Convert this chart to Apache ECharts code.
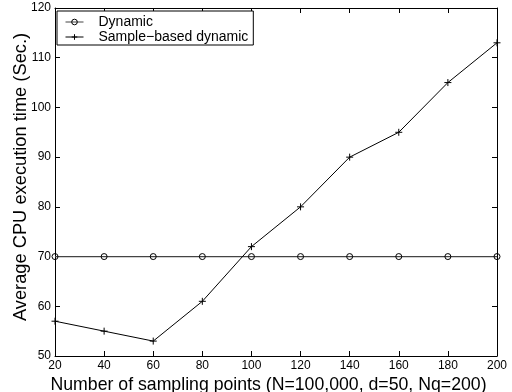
<!DOCTYPE html>
<html>
<head>
<meta charset="utf-8">
<script src="https://cdn.jsdelivr.net/npm/echarts@6/dist/echarts.min.js"></script>
<style>
  html, body { margin: 0; padding: 0; background: #fff; }
  #chart { width: 512px; height: 392px; }
</style>
</head>
<body>
<div id="chart"></div>
<script>
const samplingPoints = [20, 40, 60, 80, 100, 120, 140, 160, 180, 200];
const dynamicTime = [70, 70, 70, 70, 70, 70, 70, 70, 70, 70];
const sampleBasedTime = [57, 55, 53, 61, 72, 80, 90, 95, 105, 113];

const font = 'Liberation Sans, Arial, Helvetica, sans-serif';
const plus = 'path://M0,5L10,5M5,0L5,10';

function pairs(ys) {
  return samplingPoints.map((x, i) => [x, ys[i]]);
}

const tickStyle = { show: true, inside: true, length: 5, lineStyle: { color: '#000', width: 1 } };
const lineAxis = { show: true, onZero: false, lineStyle: { color: '#000', width: 1 } };

const chart = echarts.init(document.getElementById('chart'));
chart.setOption({
  animation: false,
  backgroundColor: '#fff',
  textStyle: { fontFamily: font },
  grid: { left: 55, right: 15, top: 8, bottom: 36, containLabel: false, outerBoundsMode: 'none' },
  legend: {
    orient: 'vertical',
    left: 57,
    top: 11,
    padding: [4, 5, 1, 8],
    itemWidth: 18,
    itemHeight: 7,
    itemGap: 1,
    backgroundColor: '#fff',
    borderColor: '#000',
    borderWidth: 1,
    borderRadius: 0,
    lineStyle: { width: 1 },
    itemStyle: { borderWidth: 1 },
    textStyle: { fontFamily: font, fontSize: 14, lineHeight: 14, color: '#000', padding: [0, 0, 0, 10] },
    data: ['Dynamic', 'Sample\u2212based dynamic']
  },
  xAxis: [
    {
      type: 'value', min: 20, max: 200, interval: 20,
      name: 'Number of sampling points (N=100,000, d=50, Nq=200)',
      nameLocation: 'middle', nameGap: 20, nameMoveOverlap: false,
      nameTextStyle: { fontFamily: font, fontSize: 17.7, color: '#000', padding: [0, 15, 0, 0] },
      axisLine: lineAxis, axisTick: tickStyle,
      axisLabel: { fontFamily: font, fontSize: 12, color: '#000', margin: 4 },
      splitLine: { show: false }
    },
    {
      type: 'value', position: 'top', min: 20, max: 200, interval: 20,
      axisLine: lineAxis, axisTick: tickStyle,
      axisLabel: { show: false }, splitLine: { show: false }
    }
  ],
  yAxis: [
    {
      type: 'value', min: 50, max: 120, interval: 10,
      name: 'Average CPU execution time (Sec.)',
      nameLocation: 'middle', nameGap: 25, nameMoveOverlap: false,
      nameTextStyle: { fontFamily: font, fontSize: 18.3, color: '#000', padding: [0, 0, 0, 10] },
      axisLine: lineAxis, axisTick: tickStyle,
      axisLabel: { fontFamily: font, fontSize: 12, color: '#000', margin: 4 },
      splitLine: { show: false }
    },
    {
      type: 'value', position: 'right', min: 50, max: 120, interval: 10,
      axisLine: lineAxis, axisTick: tickStyle,
      axisLabel: { show: false }, splitLine: { show: false }
    }
  ],
  series: [
    {
      name: 'Dynamic',
      type: 'line',
      data: pairs(dynamicTime),
      symbol: 'circle',
      symbolSize: 6,
      itemStyle: { color: 'rgba(0,0,0,0)', borderColor: '#000', borderWidth: 1 },
      lineStyle: { color: '#444', width: 1.3 }
    },
    {
      name: 'Sample\u2212based dynamic',
      type: 'line',
      data: pairs(sampleBasedTime),
      symbol: plus,
      symbolSize: 7,
      itemStyle: { color: '#000', borderColor: '#000', borderWidth: 1 },
      lineStyle: { color: '#000', width: 1 }
    }
  ]
});
</script>
</body>
</html>
